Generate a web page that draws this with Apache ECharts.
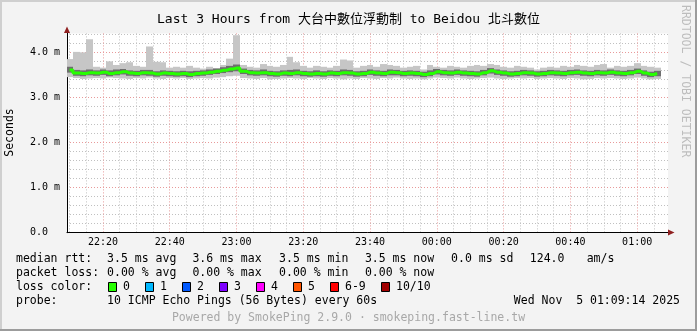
<!DOCTYPE html>
<html><head><meta charset="utf-8">
<script src="https://cdn.jsdelivr.net/npm/echarts@6/dist/echarts.min.js"></script>
<style>html,body{margin:0;padding:0;background:#f3f3f3;}#c{width:697px;height:331px;}</style>
</head><body><div id="c"></div>
<script>
// ---- data (minutes after 22:00; values in ms) ----
const START = 9 + 14 / 60;          // 22:09:14
const END = START + 180;            // 01:09:14
const binStart = 10, binStep = 2;   // 2-minute bins from 22:10
const medianRtt = [
  3.61,3.54,3.53,3.55,3.54,3.56,3.53,3.55,3.57,3.54,
  3.53,3.55,3.54,3.52,3.54,3.53,3.52,3.53,3.51,3.53,
  3.54,3.56,3.58,3.60,3.63,3.65,3.58,3.55,3.54,3.55,
  3.53,3.52,3.54,3.53,3.55,3.53,3.52,3.53,3.52,3.54,
  3.53,3.55,3.54,3.52,3.53,3.56,3.54,3.53,3.56,3.55,
  3.53,3.54,3.53,3.51,3.53,3.57,3.55,3.54,3.56,3.54,
  3.53,3.52,3.55,3.59,3.56,3.54,3.52,3.53,3.55,3.54,
  3.52,3.53,3.55,3.54,3.53,3.55,3.56,3.54,3.53,3.55,
  3.54,3.56,3.54,3.53,3.55,3.58,3.54,3.51,3.53];
const maxRtt = [
  3.85,4.01,4.00,4.29,3.68,3.66,3.80,3.72,3.76,3.78,
  3.70,3.68,4.13,3.79,3.78,3.66,3.68,3.66,3.70,3.66,
  3.64,3.68,3.65,3.72,3.86,4.38,3.72,3.68,3.66,3.74,
  3.70,3.68,3.72,3.90,3.78,3.70,3.66,3.70,3.68,3.66,
  3.70,3.84,3.82,3.66,3.70,3.72,3.68,3.74,3.72,3.70,
  3.66,3.68,3.70,3.62,3.72,3.68,3.66,3.70,3.68,3.66,
  3.70,3.72,3.70,3.74,3.72,3.68,3.66,3.70,3.68,3.66,
  3.62,3.66,3.68,3.66,3.70,3.68,3.72,3.70,3.68,3.72,
  3.74,3.66,3.70,3.68,3.70,3.76,3.70,3.68,3.66];
const minRtt = [
  3.45,3.43,3.41,3.42,3.43,3.42,3.44,3.43,3.42,3.41,
  3.43,3.42,3.44,3.42,3.41,3.43,3.42,3.43,3.41,3.42,
  3.43,3.42,3.44,3.45,3.47,3.48,3.43,3.42,3.41,3.43,
  3.40,3.41,3.42,3.43,3.42,3.41,3.43,3.42,3.41,3.43,
  3.42,3.40,3.42,3.41,3.43,3.42,3.41,3.43,3.42,3.44,
  3.42,3.41,3.42,3.40,3.42,3.44,3.43,3.42,3.44,3.42,
  3.41,3.42,3.43,3.44,3.42,3.41,3.42,3.43,3.42,3.43,
  3.41,3.42,3.43,3.42,3.41,3.43,3.42,3.40,3.41,3.43,
  3.42,3.43,3.42,3.41,3.42,3.44,3.42,3.40,3.41];
const loRtt = [
  3.55,3.48,3.47,3.49,3.48,3.50,3.47,3.49,3.51,3.48,
  3.47,3.49,3.48,3.46,3.48,3.47,3.46,3.47,3.45,3.47,
  3.48,3.50,3.52,3.54,3.56,3.58,3.52,3.49,3.48,3.49,
  3.47,3.46,3.48,3.47,3.49,3.47,3.46,3.47,3.46,3.48,
  3.47,3.49,3.48,3.46,3.47,3.50,3.48,3.47,3.49,3.49,
  3.47,3.48,3.47,3.45,3.47,3.51,3.49,3.48,3.50,3.48,
  3.47,3.46,3.49,3.53,3.50,3.48,3.46,3.47,3.49,3.48,
  3.46,3.47,3.49,3.48,3.47,3.49,3.50,3.48,3.47,3.49,
  3.48,3.50,3.48,3.47,3.49,3.52,3.48,3.45,3.47];
const hiRtt = [
  3.68,3.61,3.60,3.62,3.60,3.62,3.60,3.62,3.63,3.60,
  3.59,3.61,3.61,3.58,3.60,3.59,3.58,3.59,3.58,3.59,
  3.60,3.62,3.64,3.67,3.70,3.73,3.64,3.61,3.60,3.62,
  3.59,3.58,3.60,3.61,3.62,3.59,3.58,3.60,3.58,3.60,
  3.59,3.62,3.61,3.58,3.59,3.62,3.60,3.59,3.62,3.61,
  3.59,3.60,3.59,3.57,3.60,3.63,3.61,3.60,3.62,3.60,
  3.59,3.58,3.61,3.65,3.62,3.60,3.58,3.59,3.61,3.60,
  3.58,3.59,3.61,3.60,3.59,3.61,3.62,3.60,3.59,3.61,
  3.60,3.62,3.60,3.59,3.61,3.64,3.60,3.57,3.59];
const xGridTimes = [10,15,20,25,30,35,40,45,50,55,60,65,70,75,80,85,90,95,100,105,110,115,120,125,130,135,140,145,150,155,160,165,170,175,180,185];
const xLabelTimes = [20,40,60,80,100,120,140,160,180];
const lossLabels = ['0','1','2','3','4','5','6-9','10/10'];
const lossColors = ['#26ff00','#00b8ff','#0059ff','#7e00ff','#ff00ff','#ff5500','#ff0000','#a00000'];
const statsRtt = ['3.5 ms avg','3.6 ms max','3.5 ms min','3.5 ms now','0.0 ms sd','124.0','am/s'];
const statsLoss = ['0.00 % avg','0.00 % max','0.00 % min','0.00 % now'];

// ---- build ----
const times = medianRtt.map((_, i) => binStart + i * binStep);
const pair = arr => arr.map((v, i) => [times[i], v]);
const range = (a, b) => a.map((v, i) => [times[i], v, b[i]]);
const MONO = '"DejaVu Sans Mono", monospace';
const fmtTime = t => { t = Math.round(t); const h = (22 + Math.floor(t / 60)) % 24, m = t % 60; return String(h).padStart(2,'0') + ':' + String(m).padStart(2,'0'); };
const G = '#c0c0c0', R = '#e89a9a';

const smoke = (name, data, color, z) => ({
  name, type: 'custom', data, silent: true, z,
  encode: { x: 0, y: [1, 2] },
  renderItem: (params, api) => {
    const t = api.value(0);
    const p0 = api.coord([t - binStep / 2, api.value(2)]);
    const p1 = api.coord([t + binStep / 2, api.value(1)]);
    const x0 = Math.round(p0[0]), x1 = Math.round(p1[0]);
    const shape = echarts.graphic.clipRectByRect({ x: x0, y: p0[1], width: x1 - x0, height: p1[1] - p0[1] }, params.coordSys);
    return shape && { type: 'rect', shape, style: { fill: color } };
  }
});

const chart = echarts.init(document.getElementById('c'), null, { renderer: 'canvas' });
const graphic = [];
graphic.push({ type:'rect', shape:{x:0,y:0,width:697,height:2}, style:{fill:'#cfcfcf'}, silent:true });
graphic.push({ type:'rect', shape:{x:0,y:0,width:2,height:331}, style:{fill:'#cfcfcf'}, silent:true });
graphic.push({ type:'rect', shape:{x:695,y:0,width:2,height:331}, style:{fill:'#9c9c9c'}, silent:true });
graphic.push({ type:'rect', shape:{x:0,y:329,width:697,height:2}, style:{fill:'#9c9c9c'}, silent:true });
graphic.push({ type:'polygon', shape:{points:[[668,229.5],[674.5,232.5],[668,235.5]]}, style:{fill:'#8f1f1f'}, silent:true, z:10 });
graphic.push({ type:'polygon', shape:{points:[[64,33],[67,26.5],[70,33]]}, style:{fill:'#8f1f1f'}, silent:true, z:10 });
graphic.push({ type:'text', x:10.5, y:132.5, rotation:Math.PI/2, style:{text:'Seconds', font:'11.5px ' + MONO, fill:'#000', align:'center', verticalAlign:'middle'}, silent:true });
graphic.push({ type:'text', x:685, y:5, rotation:-Math.PI/2, style:{text:'RRDTOOL / TOBI OETIKER', font:'11.5px ' + MONO, fill:'#bdbdbd', align:'left', verticalAlign:'middle'}, silent:true });
const txt = (text, x, y, opts) => graphic.push({ type:'text', x, y, style:Object.assign({ text, font:'11.5px ' + MONO, fill:'#000', align:'left', verticalAlign:'middle' }, opts || {}), silent:true });
const colX = [107.1, 192.4, 279.1, 364.9, 451.1, 529.8, 586.7];
txt('median rtt:', 16, 259.3);
statsRtt.forEach((s, i) => txt(s, colX[i], 259.3));
txt('packet loss:', 16, 273.3);
statsLoss.forEach((s, i) => txt(s, colX[i], 273.3));
txt('loss color:', 16, 287.2);
const boxX = [108.5, 145.5, 182.5, 219.5, 256.5, 293.5, 330.5, 381.5];
lossLabels.forEach((l, i) => {
  graphic.push({ type:'rect', shape:{x:boxX[i], y:282.5, width:8, height:9}, style:{fill:lossColors[i], stroke:'#000', lineWidth:1}, silent:true });
  txt(l, boxX[i] + 14.5, 287.2);
});
txt('probe:', 16, 301);
txt('10 ICMP Echo Pings (56 Bytes) every 60s', 107.1, 301);
txt('Wed Nov  5 01:09:14 2025', 680, 301, { align:'right' });
txt('Powered by SmokePing 2.9.0 \u00b7 smokeping.fast-line.tw', 348.5, 317.7, { align:'center', fill:'#a8a8a8' });

chart.setOption({
  animation: false,
  backgroundColor: '#f3f3f3',
  title: { text: 'Last 3 Hours from 大台中數位浮動制 to Beidou 北斗數位', left: 'center', top: 8,
    textStyle: { fontFamily: '"DejaVu Sans Mono","Noto Sans CJK TC",monospace', fontSize: 13, fontWeight: 'normal', color: '#000' } },
  grid: { left: 67, right: 29, top: 33.4, bottom: 98.3, show: true, backgroundColor: '#ffffff', borderWidth: 0, containLabel: false },
  xAxis: {
    type: 'value', min: START, max: END,
    axisLine: { show: true, onZero: false, lineStyle: { color: '#000', width: 1 } },
    axisTick: { show: false, customValues: xGridTimes },
    axisLabel: { customValues: xLabelTimes, formatter: v => fmtTime(v), color: '#000', fontFamily: MONO, fontSize: 10, margin: 5 },
    splitLine: { show: true, lineStyle: { color: [G, G, R, G], type: [1, 2], width: 1 } }
  },
  yAxis: {
    type: 'value', min: 0, max: 4.42, interval: 0.2,
    axisLine: { show: true, lineStyle: { color: '#000', width: 1 } },
    axisTick: { show: false },
    axisLabel: { color: '#000', fontFamily: MONO, fontSize: 10, margin: 7, showMaxLabel: false,
      formatter: v => { if (Math.abs(v - Math.round(v)) > 1e-6 || v > 4.01) return ''; return v === 0 ? '0.0\u00a0\u00a0' : v.toFixed(1) + ' m'; } },
    splitLine: { show: true, showMaxLine: false, lineStyle: { color: [R, G, G, G, G], type: [1, 2], width: 1 } }
  },
  graphic,
  series: [
    smoke('range', range(minRtt, maxRtt), '#c6c6c6', 2),
    smoke('core', range(loRtt, hiRtt), '#6e6e6e', 3),
    { name: 'median', type: 'line', step: 'middle', data: pair(medianRtt), symbol: 'none', silent: true,
      lineStyle: { color: '#26ff00', width: 3 }, z: 5 }
  ]
});
</script></body></html>
